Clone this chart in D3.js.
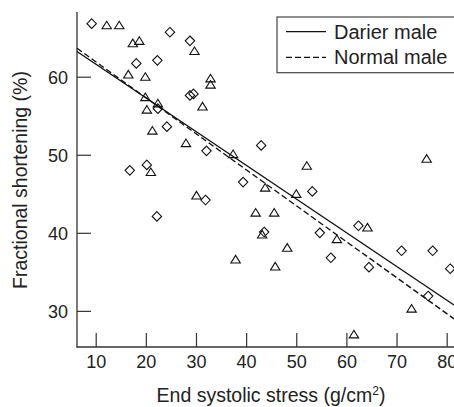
<!DOCTYPE html>
<html>
<head>
<meta charset="utf-8">
<script src="https://cdn.jsdelivr.net/npm/d3@7"></script>
<style>
  body { margin: 0; background: #fff; }
  text { font-family: "Liberation Sans", Arial, sans-serif; fill: #222; }
</style>
</head>
<body>
<div id="chart"></div>
<script>
// Darier male (diamonds)
var darierStress = [9.2, 18.1, 22.3, 24.8, 28.8, 28.8, 29.5, 22.4, 24.2, 16.8, 20.2, 22.2, 32.1, 43.0, 39.4, 31.9, 43.6, 53.2, 62.4, 54.7, 56.9, 71.0, 77.2, 64.5, 80.7, 76.3];
var darierFS     = [66.8, 61.7, 62.1, 65.7, 64.6, 57.6, 57.8, 55.9, 53.6, 48.0, 48.7, 42.1, 50.5, 51.2, 46.5, 44.2, 40.1, 45.3, 40.9, 40.0, 36.8, 37.7, 37.7, 35.6, 35.4, 31.9];

// Normal male (triangles)
var normalStress = [12.2, 14.7, 17.4, 18.7, 16.5, 19.9, 29.7, 32.9, 32.9, 31.3, 19.9, 22.4, 20.2, 21.3, 21.0, 28.0, 37.4, 43.8, 50.0, 30.1, 41.9, 45.6, 43.2, 48.2, 37.9, 45.8, 52.1, 76.0, 64.2, 58.1, 73.0, 61.5];
var normalFS     = [66.6, 66.6, 64.3, 64.6, 60.3, 60.0, 63.3, 59.8, 59.0, 56.2, 57.4, 56.6, 55.8, 53.1, 47.8, 51.5, 50.1, 45.8, 45.0, 44.8, 42.6, 42.6, 39.8, 38.1, 36.6, 35.7, 48.6, 49.5, 40.7, 39.2, 30.3, 27.0];

// regression lines
var lineNames      = ["Darier male", "Normal male"];
var lineIntercepts = [65.94, 66.53];
var lineSlopes     = [-0.432, -0.461];

var xTicks = [10, 20, 30, 40, 50, 60, 70, 80];
var yTicks = [30, 40, 50, 60];

var W = 454, H = 407;

var svg = d3.select("#chart").append("svg")
    .attr("width", W)
    .attr("height", H);

var x = d3.scaleLinear().domain([6.27, 81.46]).range([77, 454]);
var y = d3.scaleLinear().domain([25.37, 68.29]).range([347, 12]);

// axes
var xAxis = d3.axisBottom(x).tickValues(xTicks).tickSize(-14).tickPadding(8).tickFormat(d3.format("d"));
var yAxis = d3.axisLeft(y).tickValues(yTicks).tickSize(-14).tickPadding(9).tickFormat(d3.format("d"));

var gx = svg.append("g").attr("transform", "translate(0,347)").call(xAxis);
var gy = svg.append("g").attr("transform", "translate(77,0)").call(yAxis);

[gx, gy].forEach(function (g) {
    g.select(".domain").remove();
    g.selectAll(".tick line").attr("stroke", "#333").attr("stroke-width", 1.2);
    g.selectAll(".tick text").style("font-size", "18px").attr("fill", "#222");
});
gx.selectAll(".tick text").attr("y", 8).attr("dy", "0.71em");
gy.selectAll(".tick text").attr("x", -9).attr("dy", "0.35em");

// axis lines
svg.append("line")
    .attr("x1", 77).attr("x2", 77).attr("y1", 12).attr("y2", 347.5)
    .attr("stroke", "#333").attr("stroke-width", 1.3);
svg.append("line")
    .attr("x1", 76.5).attr("x2", 454).attr("y1", 347).attr("y2", 347)
    .attr("stroke", "#333").attr("stroke-width", 1.3);

// regression lines
var dom = x.domain();
var lineStyle = [null, "6,3"];
lineNames.forEach(function (n, i) {
    svg.append("line")
        .attr("x1", x(dom[0])).attr("y1", y(lineIntercepts[i] + lineSlopes[i] * dom[0]))
        .attr("x2", x(dom[1])).attr("y2", y(lineIntercepts[i] + lineSlopes[i] * dom[1]))
        .attr("stroke", "#111")
        .attr("stroke-width", 1.4)
        .attr("stroke-dasharray", lineStyle[i]);
});

// markers
var diamond = "M0,-4.8L4.7,0L0,4.8L-4.7,0Z";
var triangle = "M0,-4L4.7,3.6L-4.7,3.6Z";

svg.append("g").selectAll("path")
    .data(darierStress)
    .enter()
    .append("path")
    .attr("d", diamond)
    .attr("transform", function (d, i) { return "translate(" + x(d) + "," + y(darierFS[i]) + ")"; })
    .attr("fill", "none")
    .attr("stroke", "#111")
    .attr("stroke-width", 1.1);

svg.append("g").selectAll("path")
    .data(normalStress)
    .enter()
    .append("path")
    .attr("d", triangle)
    .attr("transform", function (d, i) { return "translate(" + x(d) + "," + y(normalFS[i]) + ")"; })
    .attr("fill", "none")
    .attr("stroke", "#111")
    .attr("stroke-width", 1.1);

// legend
var legend = svg.append("g");
legend.append("rect")
    .attr("x", 277).attr("y", 17)
    .attr("width", 190).attr("height", 55.7)
    .attr("fill", "#fff")
    .attr("stroke", "#444")
    .attr("stroke-width", 1.2);

lineNames.forEach(function (n, i) {
    var ly = 31.7 + i * 25.6;
    legend.append("line")
        .attr("x1", 286).attr("x2", 326)
        .attr("y1", ly).attr("y2", ly)
        .attr("stroke", "#111")
        .attr("stroke-width", 1.3)
        .attr("stroke-dasharray", lineStyle[i]);
    legend.append("text")
        .attr("x", 334)
        .attr("y", ly + 7)
        .style("font-size", "20px")
        .text(n);
});

// axis titles
var xt = svg.append("text")
    .attr("x", 271)
    .attr("y", 402)
    .attr("text-anchor", "middle")
    .style("font-size", "19.5px");
xt.append("tspan").text("End systolic stress (g/cm");
xt.append("tspan").attr("baseline-shift", "super").style("font-size", "12px").text("2");
xt.append("tspan").text(")");

svg.append("text")
    .attr("transform", "translate(27,180) rotate(-90)")
    .attr("text-anchor", "middle")
    .style("font-size", "19.5px")
    .text("Fractional shortening (%)");
</script>
</body>
</html>
